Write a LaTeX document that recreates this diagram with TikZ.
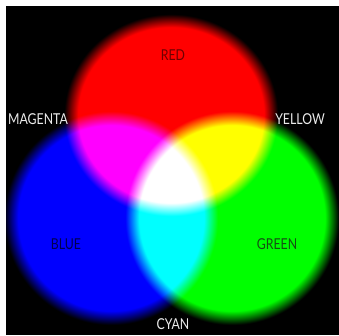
\documentclass[tikz,border=0pt]{standalone}
\usepackage{fontspec}
\newfontfamily\labelfont[FakeStretch=0.82]{Lato}

% soft-edged lights, fading to black at the rim
\pgfdeclareradialshading{soft red}{\pgfpointorigin}{color(0bp)=(red); color(21.3bp)=(red); color(24.5bp)=(black); color(50bp)=(black)}
\pgfdeclareradialshading{soft blue}{\pgfpointorigin}{color(0bp)=(blue); color(21.3bp)=(blue); color(24.5bp)=(black); color(50bp)=(black)}
\pgfdeclareradialshading{soft green}{\pgfpointorigin}{color(0bp)=(green); color(21.3bp)=(green); color(24.5bp)=(black); color(50bp)=(black)}

\definecolor{redtext}{RGB}{110,0,0}
\definecolor{bluetext}{RGB}{0,0,80}
\definecolor{greentext}{RGB}{20,80,20}
\definecolor{lighttext}{RGB}{235,235,235}

\begin{document}
\begin{tikzpicture}[
    x=1pt, y=1pt,
    colour label/.style={
        font=\labelfont\fontsize{15}{15}\selectfont,
        inner sep=0pt
    }
]
\useasboundingbox (0,0) rectangle (339,335);

% backdrop
\fill[white] (0,0) rectangle (339,335);
\fill[black] (6,0) rectangle (339,329);

% light centres
\coordinate (red centre) at (171,220);
\coordinate (blue centre) at (111,117);
\coordinate (green centre) at (232,117);

% additive mixing, kept inside the black field
\begin{scope}
\clip (6,0) rectangle (339,329);
\begin{scope}[blend group=screen]
\shade[shading=soft red] (red centre) ellipse [x radius=109, y radius=103];
\shade[shading=soft blue] (blue centre) circle [radius=109];
\shade[shading=soft green] (green centre) circle [radius=109];
\end{scope}
\end{scope}

% labels
\node[colour label, text=redtext] (red) at (173,280) {RED};
\node[colour label, text=lighttext] (magenta) at (38,216) {MAGENTA};
\node[colour label, text=lighttext] (yellow) at (300,216) {YELLOW};
\node[colour label, text=bluetext] (blue) at (66,91) {BLUE};
\node[colour label, text=greentext] (green) at (277,91) {GREEN};
\node[colour label, text=lighttext] (cyan) at (173,11) {CYAN};
\end{tikzpicture}
\end{document}
